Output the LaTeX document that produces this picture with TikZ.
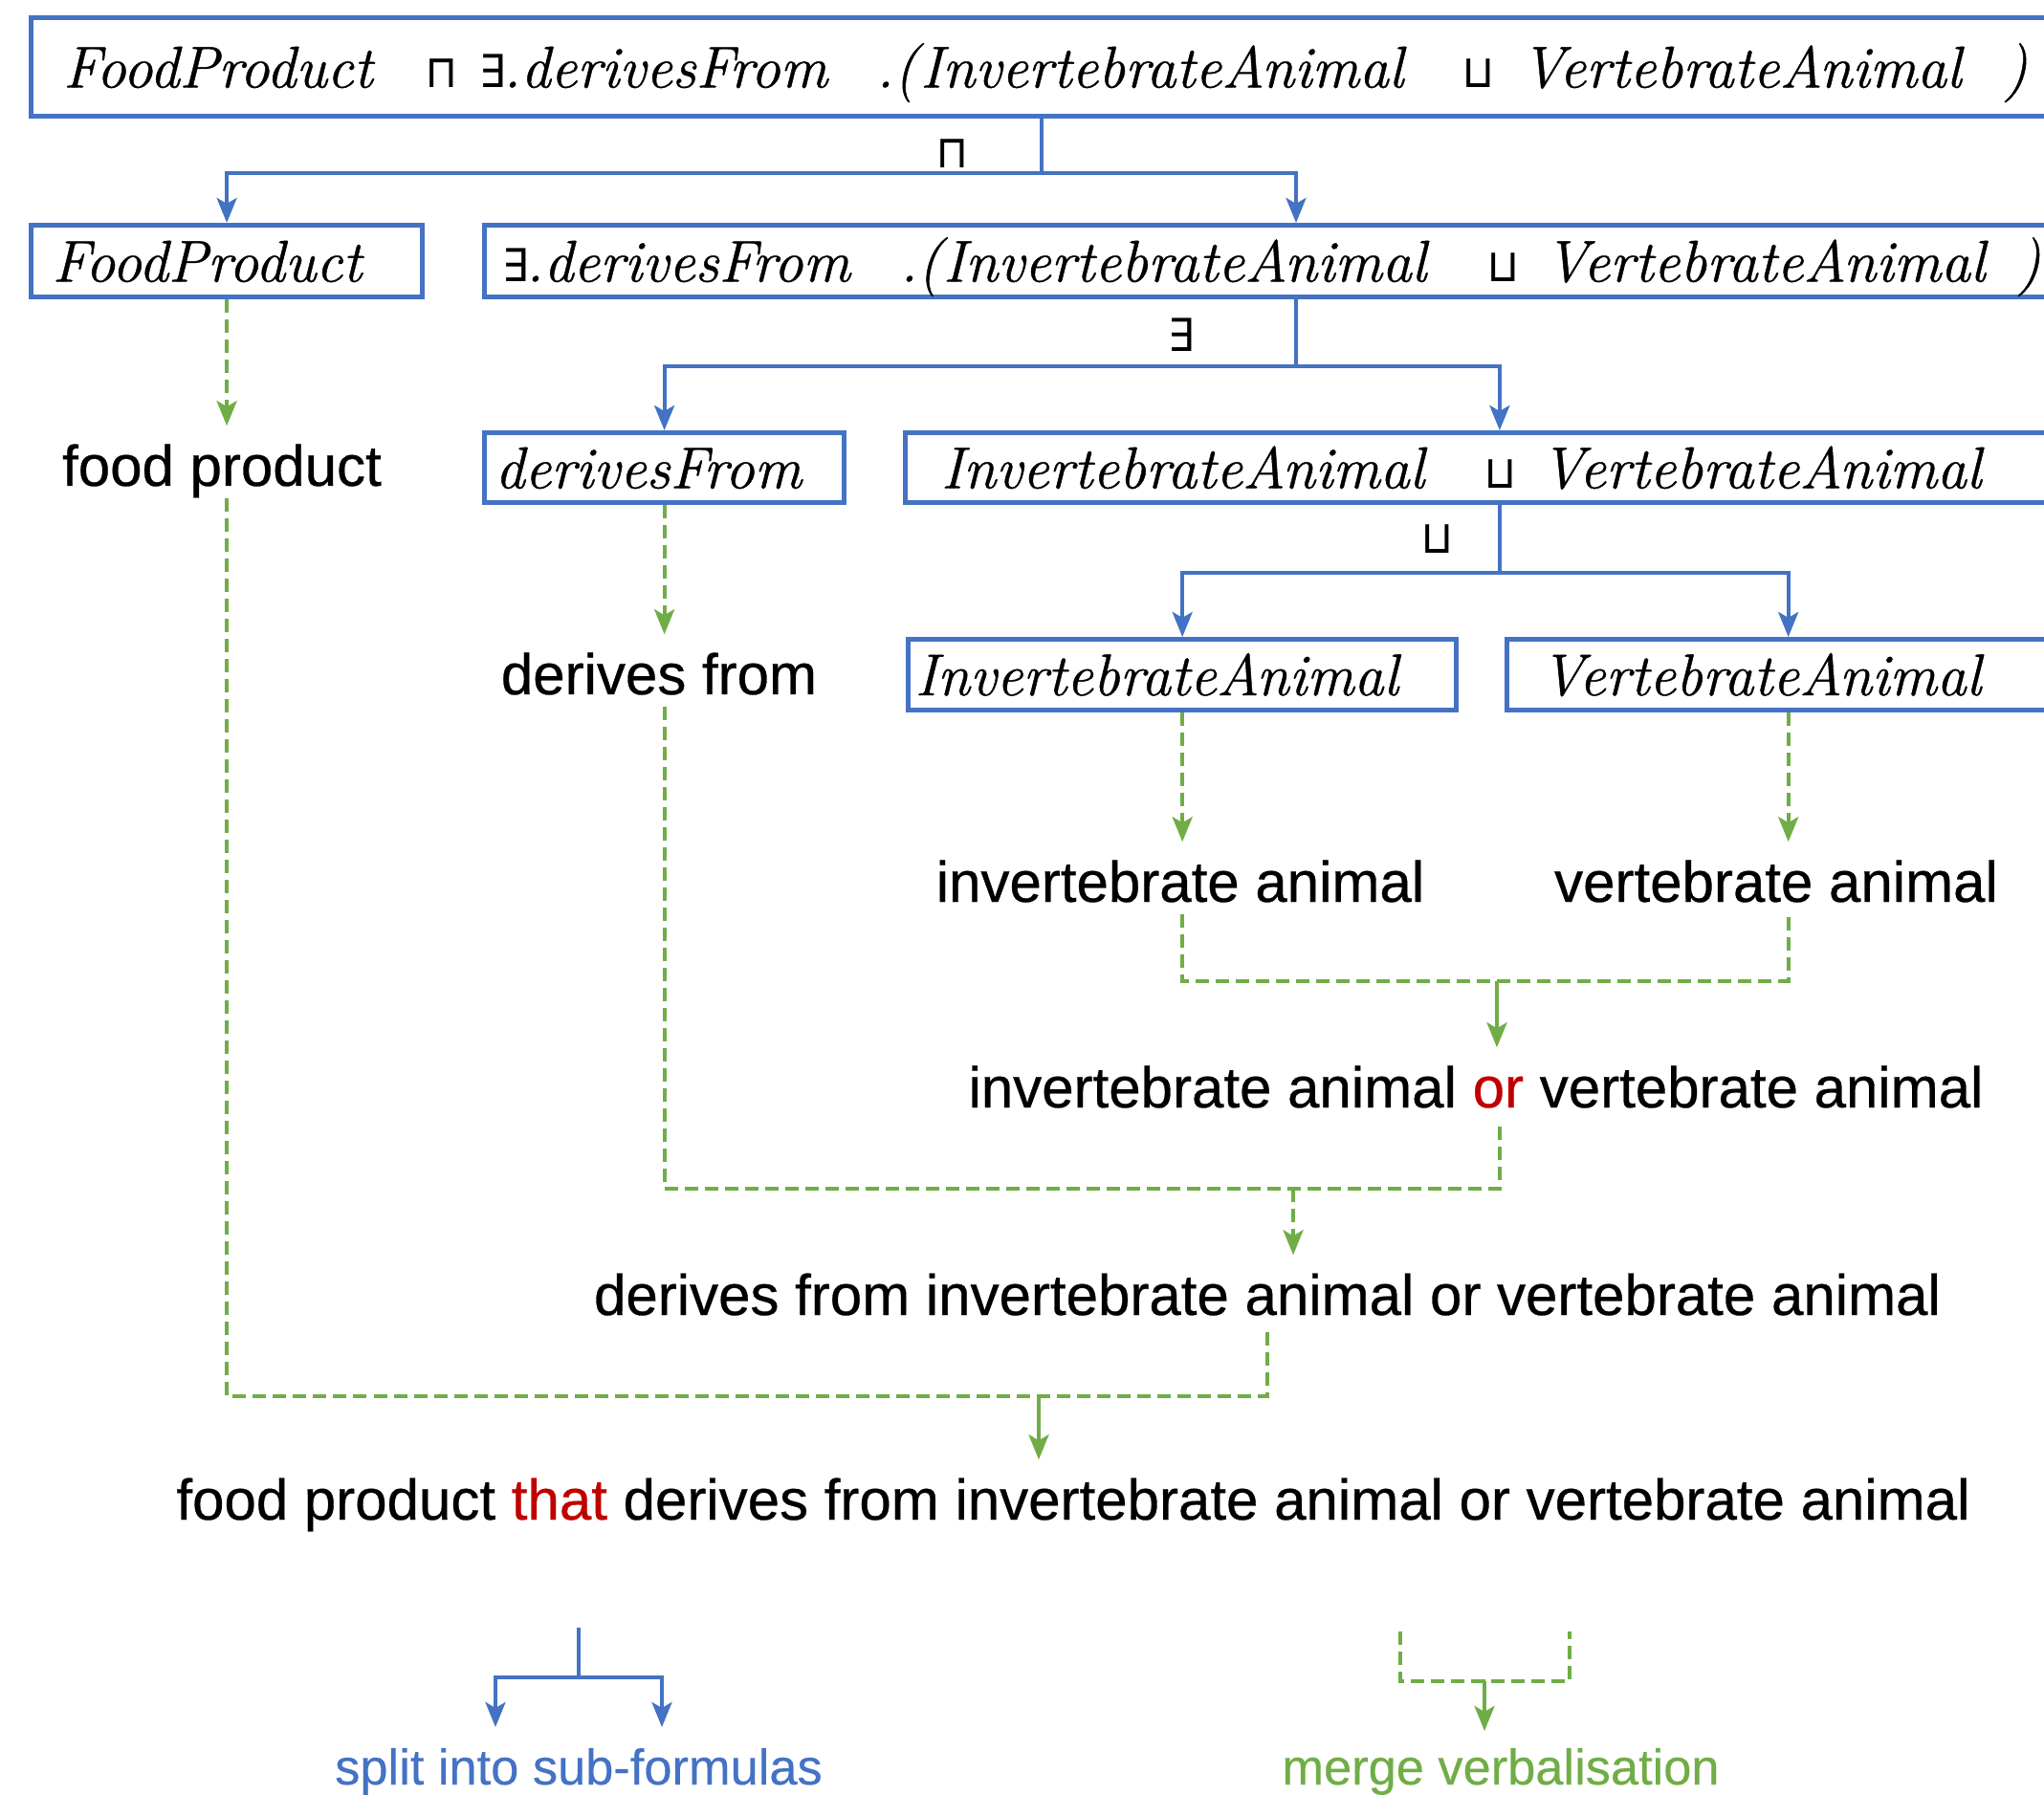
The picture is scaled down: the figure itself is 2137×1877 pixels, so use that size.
\documentclass[tikz,border=0pt]{standalone}
\usepackage{fontspec}
\usetikzlibrary{arrows.meta}
\newfontfamily\verbfont[FakeBold=0.5]{Liberation Sans}
\newfontfamily\legfont[FakeBold=0.3]{Liberation Sans}
\newfontfamily\opfont{DejaVu Sans Mono}
\newfontfamily\formfamily[FakeBold=0.7]{Latin Modern Roman}
\newlength\px \setlength\px{0.01cm}
% place #2 at horizontal offset #1 (in px) from the current point
\newcommand\putat[2]{\makebox[0pt][l]{\hspace*{#1\px}#2}}
% formula line of fixed width #1 (px)
\newcommand\formula[2]{\makebox[#1\px][l]{#2}}
\newcommand\op[1]{{\opfont\fontsize{13.5pt}{15pt}\selectfont #1}}
\newcommand\fmfont{\formfamily\fontsize{17.56pt}{20pt}\selectfont\itshape}
\newcommand\vfont{\verbfont\fontsize{17.07pt}{20pt}\selectfont}
\newcommand\lgfont{\legfont\fontsize{14.9pt}{18pt}\selectfont}
\definecolor{splitblue}{HTML}{4472C4}
\definecolor{mergegreen}{HTML}{70AD47}
\definecolor{connred}{HTML}{C00000}
\begin{document}
\begin{tikzpicture}[x=0.01cm, y=-0.01cm,
  formbox/.style={draw=splitblue, line width=0.05cm, rectangle, anchor=north west,
    inner ysep=0pt, minimum height=0.75cm, text height=0.43cm, text depth=0pt, font=\fmfont},
  vtext/.style={font=\vfont, anchor=base, inner xsep=0pt, inner ysep=0.12cm,
    text height=0.5cm, text depth=0pt},
  lgtext/.style={font=\lgfont, anchor=base, inner sep=0pt},
  oplabel/.style={inner sep=0pt, font=\opfont\fontsize{13.5pt}{15pt}\selectfont},
  tip/.style={-{Stealth[length=0.26cm,width=0.21cm,inset=0.06cm]}},
  splline/.style={draw=splitblue, line width=0.04cm},
  spl/.style={splline, tip},
  mrg/.style={draw=mergegreen, line width=0.04cm, dash pattern=on 0.14cm off 0.07cm},
  mrgarrow/.style={mrg, tip},
  mrgsolid/.style={draw=mergegreen, line width=0.04cm, tip}]

\useasboundingbox (0,0) rectangle (2137,1877);
\clip (0,0) rectangle (2137,1877);

% formula boxes
\node[formbox, minimum width=21.12cm, minimum height=1.03cm, inner xsep=0.33cm] (top) at (30,16)
  {\formula{2046}{\putat{0}{FoodProduct}\putat{381}{\op{⊓}}\putat{435}{\op{∃}}\putat{460}{.derivesFrom}\putat{850}{.(}\putat{896}{InvertebrateAnimal}\putat{1465}{\op{⊔}}\putat{1524}{VertebrateAnimal}\putat{2029}{)}}};
\node[formbox, minimum width=4.09cm, inner xsep=0.22cm] (fp) at (30,233)
  {\formula{365}{FoodProduct}};
\node[formbox, minimum width=16.96cm, inner xsep=0.18cm] (ex) at (504,233)
  {\formula{1660}{\putat{0}{\op{∃}}\putat{25}{.derivesFrom}\putat{416}{.(}\putat{461}{InvertebrateAnimal}\putat{1032}{\op{⊔}}\putat{1090}{VertebrateAnimal}\putat{1584}{)}}};
\node[formbox, minimum width=3.76cm, minimum height=0.73cm, inner xsep=0.11cm] (df) at (504,450)
  {\formula{354}{derivesFrom}};
\node[formbox, minimum width=12.42cm, minimum height=0.73cm, inner xsep=0.37cm] (iv) at (944,450)
  {\formula{1168}{\putat{0}{InvertebrateAnimal}\putat{571}{\op{⊔}}\putat{627}{VertebrateAnimal}}};
\node[formbox, minimum width=5.73cm, minimum height=0.74cm, inner xsep=0.07cm] (ia) at (947,666)
  {\formula{559}{InvertebrateAnimal}};
\node[formbox, minimum width=5.88cm, minimum height=0.74cm, inner xsep=0.35cm] (va) at (1573,666)
  {\formula{518}{VertebrateAnimal}};

% operator labels on the splits
\node[oplabel] (opand) at (996,161) {⊓};
\node[oplabel] (opex) at (1236,350) {∃};
\node[oplabel] (opor) at (1503,564) {⊔};

% verbalisations
\node[vtext] (fpt) at (232,508) {food product};
\node[vtext] (dft) at (689,726) {derives from};
\node[vtext] (iat) at (1234,943) {invertebrate animal};
\node[vtext] (vat) at (1857,943) {vertebrate animal};
\node[vtext] (iovt) at (1543,1158) {invertebrate animal \textcolor{connred}{or} vertebrate animal};
\node[vtext] (dfall) at (1325,1375) {derives from invertebrate animal or vertebrate animal};
\node[vtext] (final) at (1122,1589) {food product \textcolor{connred}{that} derives from invertebrate animal or vertebrate animal};

% splits into sub-formulas
\path (top.south) ++(0,57) coordinate (s1);
\draw[splline] (top.south) -- (s1);
\draw[spl] (s1) -| (fp.north);
\draw[spl] (s1) -| (ex.north);
\path (ex.south) ++(0,70) coordinate (s2);
\draw[splline] (ex.south) -- (s2);
\draw[spl] (s2) -| (df.north);
\draw[spl] (s2) -| (iv.north);
\path (iv.south) ++(0,71) coordinate (s3);
\draw[splline] (iv.south) -- (s3);
\draw[spl] (s3) -| (ia.north);
\draw[spl] (s3) -| (va.north);

% verbalising atoms
\draw[mrgarrow] (fp.south) -- (fp.south |- fpt.north);
\draw[mrgarrow] (df.south) -- (df.south |- dft.north);
\draw[mrgarrow] (ia.south) -- (ia.south |- iat.north);
\draw[mrgarrow] (va.south) -- (va.south |- vat.north);

% merging verbalisations
\coordinate (j1) at (1565,1026);
\draw[mrg] (ia.south |- iat.south) |- (j1) -| (va.south |- vat.south);
\draw[mrgsolid] (j1) -- (j1 |- iovt.north);
\coordinate (j2) at (1352,1243);
\draw[mrg] (df.south |- dft.south) |- (j2) -| (iv.south |- iovt.south);
\draw[mrgarrow] (j2) -- (j2 |- dfall.north);
\coordinate (j3) at (1086,1460);
\draw[mrg] (fp.south |- fpt.south) |- (j3) -| (dfall.south);
\draw[mrgsolid] (j3) -- (j3 |- final.north);

% legend
\coordinate (lgs) at (605,1702);
\coordinate (lgj) at (605,1754);
\coordinate (lgl) at (518,1806);
\coordinate (lgr) at (692,1806);
\draw[splline] (lgs) -- (lgj);
\draw[spl] (lgj) -| (lgl);
\draw[spl] (lgj) -| (lgr);
\node[lgtext, text=splitblue] (splitlab) at (605,1866) {split into sub-formulas};
\coordinate (mgl) at (1464,1706);
\coordinate (mgr) at (1641,1706);
\coordinate (mgj) at (1552,1758);
\coordinate (mge) at (1552,1810);
\draw[mrg] (mgl) |- (mgj) -| (mgr);
\draw[mrgsolid] (mgj) -- (mge);
\node[lgtext, text=mergegreen] (mergelab) at (1569,1866) {merge verbalisation};
\end{tikzpicture}
\end{document}
